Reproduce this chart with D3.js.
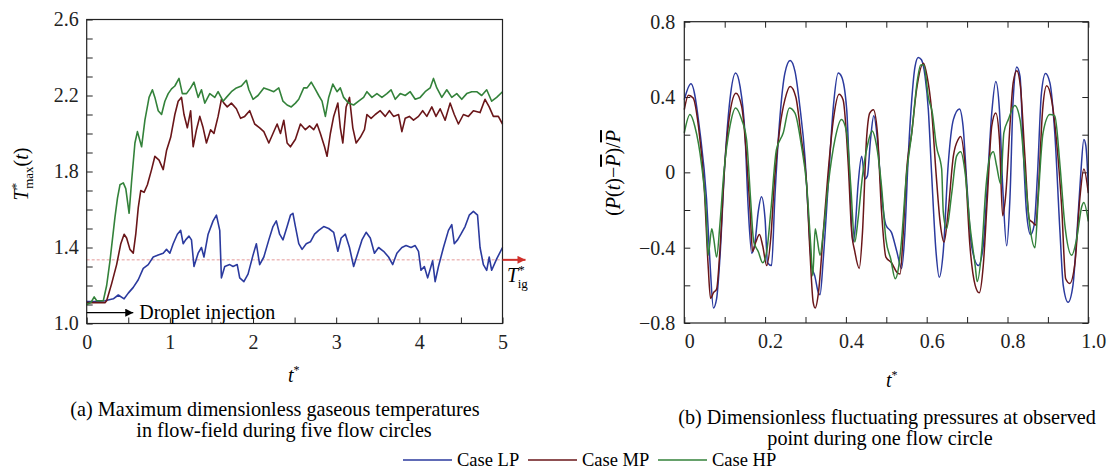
<!DOCTYPE html>
<html>
<head>
<meta charset="utf-8">
<script src="https://cdn.jsdelivr.net/npm/d3@7"></script>
<style>
  body { margin: 0; background: #fff; }
  svg { display: block; font-family: "Liberation Serif", "Times New Roman", serif; }
</style>
</head>
<body>
<svg id="chart" width="1117" height="470" font-family="Liberation Serif, Times New Roman, serif"></svg>
<script>
// ---- data: panel (a), T*max(t) over five flow circles, [t*, value]
const tempLP = [[0,1.115],[0.1,1.115],[0.22,1.12],[0.32,1.13],[0.38,1.15],[0.45,1.13],[0.50,1.16],[0.56,1.19],[0.62,1.23],[0.68,1.29],[0.74,1.31],[0.80,1.35],[0.86,1.36],[0.92,1.37],[0.96,1.39],[1.00,1.37],[1.04,1.42],[1.09,1.47],[1.13,1.49],[1.16,1.42],[1.19,1.44],[1.23,1.46],[1.26,1.44],[1.29,1.30],[1.34,1.37],[1.38,1.40],[1.41,1.35],[1.46,1.47],[1.52,1.54],[1.56,1.57],[1.60,1.49],[1.62,1.24],[1.66,1.30],[1.72,1.31],[1.76,1.30],[1.81,1.31],[1.84,1.24],[1.89,1.22],[1.94,1.26],[2.00,1.36],[2.04,1.42],[2.08,1.31],[2.13,1.35],[2.19,1.44],[2.24,1.51],[2.28,1.54],[2.32,1.47],[2.36,1.44],[2.41,1.51],[2.45,1.57],[2.48,1.58],[2.51,1.51],[2.55,1.42],[2.59,1.39],[2.64,1.42],[2.69,1.43],[2.74,1.47],[2.79,1.49],[2.85,1.51],[2.91,1.50],[2.97,1.48],[3.02,1.38],[3.06,1.45],[3.11,1.47],[3.16,1.40],[3.21,1.30],[3.26,1.37],[3.31,1.44],[3.36,1.48],[3.41,1.45],[3.46,1.37],[3.51,1.40],[3.57,1.38],[3.63,1.35],[3.68,1.31],[3.73,1.37],[3.79,1.40],[3.84,1.41],[3.90,1.40],[3.95,1.41],[3.99,1.38],[4.02,1.28],[4.06,1.30],[4.10,1.24],[4.14,1.30],[4.16,1.33],[4.19,1.22],[4.23,1.30],[4.29,1.40],[4.35,1.49],[4.39,1.52],[4.42,1.42],[4.46,1.44],[4.50,1.47],[4.55,1.51],[4.60,1.57],[4.65,1.59],[4.70,1.57],[4.73,1.40],[4.77,1.31],[4.81,1.28],[4.84,1.35],[4.87,1.28],[4.93,1.34],[5.00,1.40]];
const tempMP = [[0,1.11],[0.1,1.11],[0.22,1.11],[0.24,1.12],[0.30,1.21],[0.36,1.31],[0.41,1.42],[0.45,1.47],[0.48,1.45],[0.52,1.39],[0.56,1.37],[0.59,1.47],[0.62,1.61],[0.65,1.70],[0.69,1.69],[0.73,1.73],[0.78,1.81],[0.82,1.88],[0.87,1.86],[0.92,1.81],[0.96,1.91],[1.01,1.98],[1.06,2.10],[1.10,2.17],[1.14,2.19],[1.17,2.10],[1.21,2.03],[1.25,2.12],[1.28,1.93],[1.32,2.02],[1.36,2.09],[1.40,2.03],[1.44,1.95],[1.49,2.02],[1.53,2.00],[1.58,2.09],[1.62,2.18],[1.65,2.16],[1.69,2.14],[1.74,2.16],[1.80,2.13],[1.85,2.08],[1.90,2.09],[1.96,2.12],[2.02,2.05],[2.08,2.03],[2.13,2.01],[2.19,1.95],[2.24,2.00],[2.29,2.05],[2.33,2.00],[2.37,2.07],[2.41,1.95],[2.45,1.93],[2.51,1.97],[2.57,2.05],[2.63,2.02],[2.68,2.04],[2.73,2.02],[2.77,2.05],[2.81,2.00],[2.86,1.93],[2.89,1.88],[2.93,2.00],[2.97,2.09],[3.02,2.16],[3.05,2.03],[3.08,1.95],[3.12,2.14],[3.16,2.19],[3.20,2.03],[3.24,1.95],[3.29,1.98],[3.34,2.02],[3.37,2.10],[3.42,2.08],[3.47,2.10],[3.53,2.12],[3.59,2.09],[3.64,2.12],[3.69,2.09],[3.75,2.10],[3.79,2.01],[3.83,2.08],[3.88,2.09],[3.93,2.07],[3.99,2.09],[4.04,2.12],[4.09,2.09],[4.15,2.14],[4.20,2.09],[4.25,2.13],[4.31,2.07],[4.37,2.16],[4.42,2.10],[4.47,2.05],[4.53,2.10],[4.59,2.09],[4.65,2.12],[4.73,2.11],[4.79,2.18],[4.84,2.14],[4.89,2.09],[4.95,2.09],[5.00,2.05]];
const tempHP = [[0,1.10],[0.05,1.11],[0.09,1.14],[0.12,1.12],[0.20,1.12],[0.24,1.20],[0.28,1.33],[0.34,1.56],[0.37,1.66],[0.40,1.73],[0.44,1.74],[0.47,1.71],[0.51,1.58],[0.54,1.75],[0.58,1.95],[0.61,2.01],[0.66,1.93],[0.70,2.07],[0.75,2.19],[0.79,2.23],[0.82,2.19],[0.86,2.12],[0.90,2.10],[0.94,2.17],[0.98,2.21],[1.02,2.235],[1.06,2.25],[1.11,2.29],[1.15,2.21],[1.20,2.21],[1.25,2.24],[1.29,2.27],[1.34,2.19],[1.38,2.23],[1.42,2.16],[1.48,2.21],[1.54,2.19],[1.58,2.22],[1.64,2.17],[1.68,2.19],[1.74,2.22],[1.80,2.24],[1.86,2.25],[1.92,2.28],[1.95,2.23],[2.00,2.18],[2.06,2.20],[2.13,2.24],[2.19,2.23],[2.25,2.22],[2.31,2.24],[2.36,2.17],[2.41,2.15],[2.46,2.14],[2.51,2.16],[2.55,2.18],[2.61,2.24],[2.65,2.24],[2.70,2.27],[2.74,2.24],[2.79,2.20],[2.83,2.17],[2.87,2.09],[2.91,2.19],[2.96,2.26],[3.01,2.22],[3.05,2.24],[3.09,2.19],[3.15,2.16],[3.21,2.15],[3.27,2.17],[3.33,2.19],[3.37,2.22],[3.43,2.19],[3.49,2.21],[3.55,2.19],[3.61,2.21],[3.66,2.23],[3.71,2.18],[3.77,2.21],[3.83,2.20],[3.89,2.22],[3.95,2.18],[4.01,2.19],[4.07,2.22],[4.13,2.24],[4.17,2.29],[4.21,2.24],[4.27,2.19],[4.33,2.23],[4.39,2.19],[4.45,2.21],[4.51,2.18],[4.57,2.21],[4.63,2.22],[4.69,2.22],[4.75,2.20],[4.81,2.23],[4.87,2.17],[4.93,2.19],[5.00,2.22]];

// ---- data: panel (b), (P(t)-Pbar)/Pbar during one flow circle, [t*, value]
const presLP = [[0,0.386],[0.0165,0.47],[0.039,0.21],[0.055,-0.14],[0.064,-0.495],[0.072,-0.72],[0.08,-0.67],[0.088,-0.46],[0.10,0.035],[0.113,0.386],[0.127,0.527],[0.138,0.456],[0.15,0.21],[0.158,-0.18],[0.167,-0.43],[0.175,-0.37],[0.183,-0.21],[0.191,-0.13],[0.20,-0.25],[0.206,-0.48],[0.216,-0.495],[0.224,-0.14],[0.237,0.30],[0.249,0.527],[0.262,0.594],[0.274,0.536],[0.286,0.35],[0.299,0.07],[0.307,-0.23],[0.315,-0.495],[0.323,-0.55],[0.332,-0.64],[0.336,-0.65],[0.344,-0.46],[0.356,-0.07],[0.369,0.35],[0.381,0.527],[0.389,0.51],[0.402,0.333],[0.41,-0.07],[0.417,-0.37],[0.422,-0.32],[0.43,-0.07],[0.439,0.086],[0.447,-0.035],[0.453,-0.02],[0.461,0.175],[0.469,0.30],[0.478,0.175],[0.488,-0.11],[0.499,-0.28],[0.513,-0.32],[0.526,-0.42],[0.538,-0.51],[0.546,-0.32],[0.554,0.07],[0.563,0.386],[0.571,0.56],[0.579,0.61],[0.587,0.598],[0.596,0.51],[0.604,0.333],[0.612,0],[0.623,-0.42],[0.631,-0.557],[0.641,-0.42],[0.653,0.035],[0.666,0.28],[0.681,0.337],[0.69,0.245],[0.699,-0.05],[0.711,-0.39],[0.728,-0.495],[0.74,-0.39],[0.748,-0.14],[0.761,0.315],[0.771,0.483],[0.78,0.333],[0.788,-0.07],[0.798,-0.39],[0.806,-0.14],[0.814,0.386],[0.823,0.56],[0.831,0.51],[0.839,0.12],[0.847,-0.21],[0.857,-0.33],[0.866,-0.28],[0.874,-0.02],[0.884,0.42],[0.894,0.525],[0.905,0.475],[0.917,0.21],[0.93,-0.32],[0.938,-0.60],[0.95,-0.69],[0.962,-0.60],[0.972,-0.32],[0.981,-0.02],[0.989,0.175],[0.994,0.14],[1.0,-0.07]];
const presMP = [[0,0.333],[0.01,0.41],[0.022,0.395],[0.035,0.245],[0.049,-0.07],[0.059,-0.495],[0.065,-0.67],[0.072,-0.64],[0.08,-0.62],[0.088,-0.42],[0.10,0.035],[0.113,0.315],[0.128,0.42],[0.142,0.35],[0.154,0.086],[0.163,-0.21],[0.169,-0.42],[0.177,-0.37],[0.186,-0.33],[0.194,-0.39],[0.204,-0.495],[0.214,-0.35],[0.224,-0.02],[0.237,0.245],[0.249,0.386],[0.262,0.456],[0.276,0.40],[0.29,0.175],[0.303,-0.07],[0.311,-0.42],[0.319,-0.69],[0.324,-0.72],[0.332,-0.64],[0.344,-0.32],[0.356,0],[0.369,0.28],[0.383,0.415],[0.393,0.386],[0.406,0.035],[0.414,-0.31],[0.422,-0.42],[0.433,-0.51],[0.441,-0.32],[0.451,0.175],[0.459,0.315],[0.468,0.333],[0.478,0.21],[0.488,-0.20],[0.499,-0.45],[0.513,-0.48],[0.526,-0.53],[0.534,-0.54],[0.542,-0.32],[0.55,0],[0.563,0.21],[0.575,0.44],[0.592,0.58],[0.601,0.51],[0.612,0.333],[0.623,0],[0.634,-0.28],[0.643,-0.37],[0.653,-0.21],[0.666,0.086],[0.678,0.175],[0.684,0.19],[0.695,0.035],[0.707,-0.39],[0.72,-0.60],[0.73,-0.64],[0.74,-0.495],[0.75,-0.14],[0.761,0.245],[0.771,0.315],[0.78,0.175],[0.788,-0.23],[0.796,-0.11],[0.806,0.245],[0.814,0.475],[0.823,0.54],[0.832,0.456],[0.843,0.086],[0.854,-0.25],[0.862,-0.265],[0.87,-0.28],[0.876,-0.11],[0.887,0.333],[0.897,0.46],[0.909,0.386],[0.921,0.175],[0.934,-0.18],[0.944,-0.565],[0.954,-0.59],[0.967,-0.48],[0.979,-0.14],[0.989,0.018],[1.0,-0.11]];
const presHP = [[0,0.21],[0.014,0.307],[0.026,0.245],[0.043,0.035],[0.054,-0.21],[0.059,-0.44],[0.068,-0.30],[0.073,-0.355],[0.08,-0.45],[0.088,-0.28],[0.098,0],[0.113,0.245],[0.127,0.342],[0.142,0.28],[0.154,0.175],[0.164,-0.14],[0.172,-0.37],[0.183,-0.42],[0.194,-0.48],[0.204,-0.42],[0.214,-0.21],[0.228,0.12],[0.245,0.21],[0.26,0.342],[0.274,0.315],[0.29,0.14],[0.303,-0.07],[0.313,-0.39],[0.318,-0.55],[0.324,-0.30],[0.329,-0.355],[0.336,-0.44],[0.344,-0.32],[0.356,-0.07],[0.373,0.175],[0.389,0.28],[0.402,0.21],[0.412,-0.07],[0.422,-0.37],[0.43,-0.25],[0.441,-0.02],[0.453,0.14],[0.465,0.22],[0.476,0.14],[0.488,-0.07],[0.499,-0.355],[0.511,-0.46],[0.522,-0.565],[0.53,-0.51],[0.538,-0.355],[0.549,-0.035],[0.563,0.21],[0.577,0.49],[0.585,0.57],[0.593,0.57],[0.604,0.40],[0.614,0.315],[0.624,0.14],[0.637,0.018],[0.641,-0.21],[0.649,-0.30],[0.662,-0.11],[0.674,0.086],[0.684,0.11],[0.695,0],[0.707,-0.28],[0.72,-0.495],[0.725,-0.58],[0.736,-0.42],[0.747,-0.07],[0.757,0.086],[0.765,0.11],[0.773,0.035],[0.783,-0.06],[0.791,0.21],[0.802,0.28],[0.818,0.355],[0.831,0.28],[0.843,0],[0.855,-0.28],[0.868,-0.40],[0.876,-0.14],[0.888,0.21],[0.905,0.307],[0.917,0.30],[0.93,0.035],[0.942,-0.28],[0.959,-0.44],[0.971,-0.355],[0.984,-0.18],[0.989,-0.16],[1.0,-0.26]];

// ---- annotation and legend values
const ignitionT = 1.335;
const injectionLevel = 1.057;
const injectionEnd = 0.56;
const cases = ["Case LP", "Case MP", "Case HP"];
const colors = ["#2b3a9e", "#6a1619", "#33823a"];

const svg = d3.select("#chart");
svg.append("rect").attr("width", 1117).attr("height", 470).attr("fill", "#fff");

const defs = svg.append("defs");
function marker(id, color, w, h) {
    defs.append("marker")
        .attr("id", id)
        .attr("viewBox", "0 0 10 10")
        .attr("refX", 10).attr("refY", 5)
        .attr("markerWidth", w).attr("markerHeight", h)
        .attr("markerUnits", "userSpaceOnUse")
        .attr("orient", "auto")
      .append("path")
        .attr("d", "M0,0L10,5L0,10Z")
        .attr("fill", color);
}
marker("arrowRed", "#d0302a", 11, 8);
marker("arrowBlack", "#000", 14, 8);

function styleAxis(g, size) {
    g.attr("font-size", size).attr("font-family", null).attr("color", "#222");
    g.select(".domain").remove();
    g.selectAll(".tick line").attr("stroke-width", 1);
}

// ================= panel (a)
const xa = d3.scaleLinear().domain([0, 5]).range([86.7, 502.5]);
const ya = d3.scaleLinear().domain([1.0, 2.6]).range([323.5, 19.5]);

const aY = svg.append("g").attr("transform", `translate(${xa(0)},0)`)
    .call(d3.axisLeft(ya)
        .tickValues(d3.range(10, 27).map(d => d / 10))
        .tickSizeInner(-6).tickSizeOuter(0).tickPadding(8)
        .tickFormat(d => Math.round(d * 10) % 4 === 2 ? d3.format(".1f")(d) : ""));
styleAxis(aY, 20);

const aX = svg.append("g").attr("transform", `translate(0,${ya(1.0)})`)
    .call(d3.axisBottom(xa)
        .tickValues(d3.range(0, 11).map(d => d / 2))
        .tickSizeInner(-6).tickSizeOuter(0).tickPadding(11)
        .tickFormat(d => Number.isInteger(d) ? d : ""));
styleAxis(aX, 20);

// ignition temperature reference
svg.append("line")
    .attr("x1", xa(0)).attr("x2", xa(5))
    .attr("y1", ya(ignitionT)).attr("y2", ya(ignitionT))
    .attr("stroke", "#e59a9a").attr("stroke-width", 1)
    .attr("stroke-dasharray", "3,2");

const lineA = d3.line().x(d => xa(d[0])).y(d => ya(d[1]));
[tempLP, tempMP, tempHP].forEach((s, i) => {
    svg.append("path").datum(s)
        .attr("d", lineA)
        .attr("fill", "none")
        .attr("stroke", colors[i])
        .attr("stroke-width", 1.6)
        .attr("stroke-linejoin", "round");
});

svg.append("rect")
    .attr("x", xa(0)).attr("y", ya(2.6))
    .attr("width", xa(5) - xa(0)).attr("height", ya(1.0) - ya(2.6))
    .attr("fill", "none").attr("stroke", "#222").attr("stroke-width", 1.2);

// red arrow for T*ig
svg.append("line")
    .attr("x1", xa(5)).attr("x2", xa(5) + 23)
    .attr("y1", ya(ignitionT)).attr("y2", ya(ignitionT))
    .attr("stroke", "#d0302a").attr("stroke-width", 2)
    .attr("marker-end", "url(#arrowRed)");
const tig = svg.append("text").attr("x", 507).attr("y", 282).attr("font-size", 20);
tig.append("tspan").attr("font-style", "italic").text("T");
tig.append("tspan").attr("dy", -8).attr("font-size", 13).text("*");
tig.append("tspan").attr("dx", -7).attr("dy", 14).attr("font-size", 13).text("ig");

// droplet injection arrow
svg.append("line")
    .attr("x1", xa(0)).attr("x2", xa(injectionEnd))
    .attr("y1", ya(injectionLevel)).attr("y2", ya(injectionLevel))
    .attr("stroke", "#000").attr("stroke-width", 1.3)
    .attr("marker-end", "url(#arrowBlack)");
svg.append("text")
    .attr("x", xa(injectionEnd) + 6).attr("y", ya(injectionLevel) + 6)
    .attr("font-size", 20)
    .text("Droplet injection");

// y title
const aTitle = svg.append("text")
    .attr("transform", "translate(28,174) rotate(-90)")
    .attr("text-anchor", "middle").attr("font-size", 20);
aTitle.append("tspan").attr("font-style", "italic").text("T");
aTitle.append("tspan").attr("dy", -8).attr("font-size", 13).text("*");
aTitle.append("tspan").attr("dx", -6).attr("dy", 13).attr("font-size", 13).text("max");
aTitle.append("tspan").attr("dy", -5).text("(");
aTitle.append("tspan").attr("font-style", "italic").text("t");
aTitle.append("tspan").text(")");

// x title
const aXT = svg.append("text").attr("x", 288).attr("y", 382).attr("font-size", 20);
aXT.append("tspan").attr("font-style", "italic").text("t");
aXT.append("tspan").attr("dy", -8).attr("font-size", 12).text("*");

svg.append("text").attr("x", 275).attr("y", 416).attr("font-size", 20.2)
    .attr("text-anchor", "middle")
    .text("(a) Maximum dimensionless gaseous temperatures");
svg.append("text").attr("x", 284).attr("y", 437).attr("font-size", 20.2)
    .attr("text-anchor", "middle")
    .text("in flow-field during five flow circles");

// ================= panel (b)
const xb = d3.scaleLinear().domain([0, 1]).range([684.3, 1088.3]);
const yb = d3.scaleLinear().domain([-0.8, 0.8]).range([323, 21.7]);
const fmtB = d => Math.abs(d) < 1e-9 ? "0" : d3.format(".1f")(d);

const bY = svg.append("g").attr("transform", `translate(${xb(0)},0)`)
    .call(d3.axisLeft(yb)
        .tickValues(d3.range(-4, 5).map(d => d / 5))
        .tickSizeInner(-6).tickSizeOuter(0).tickPadding(9)
        .tickFormat(d => Math.round(d * 10) % 4 === 0 ? fmtB(d) : ""));
styleAxis(bY, 20);

const bR = svg.append("g").attr("transform", `translate(${xb(1)},0)`)
    .call(d3.axisRight(yb)
        .tickValues(d3.range(-4, 5).map(d => d / 5))
        .tickSizeInner(-6).tickSizeOuter(0).tickFormat(""));
styleAxis(bR, 20);

const bT = svg.append("g").attr("transform", `translate(0,${yb(0.8)})`)
    .call(d3.axisTop(xb)
        .tickValues(d3.range(0, 11).map(d => d / 10))
        .tickSizeInner(-6).tickSizeOuter(0).tickFormat(""));
styleAxis(bT, 20);

const bX = svg.append("g").attr("transform", `translate(0,${yb(-0.8)})`)
    .call(d3.axisBottom(xb)
        .tickValues(d3.range(0, 11).map(d => d / 10))
        .tickSizeInner(-6).tickSizeOuter(0).tickPadding(11)
        .tickFormat(d => Math.round(d * 10) % 2 === 0 ? fmtB(d) : ""));
styleAxis(bX, 20);
bX.selectAll(".tick text").attr("dx", 5);

const lineB = d3.line().curve(d3.curveMonotoneX).x(d => xb(d[0])).y(d => yb(d[1]));
[presLP, presMP, presHP].forEach((s, i) => {
    svg.append("path").datum(s)
        .attr("d", lineB)
        .attr("fill", "none")
        .attr("stroke", colors[i])
        .attr("stroke-width", 1.5);
});

svg.append("rect")
    .attr("x", xb(0)).attr("y", yb(0.8))
    .attr("width", xb(1) - xb(0)).attr("height", yb(-0.8) - yb(0.8))
    .attr("fill", "none").attr("stroke", "#222").attr("stroke-width", 1.2);

// y title with overbars
const bTitle = svg.append("text")
    .attr("transform", "translate(620,173) rotate(-90)")
    .attr("text-anchor", "middle").attr("font-size", 20);
bTitle.append("tspan").text("(");
bTitle.append("tspan").attr("font-style", "italic").text("P");
bTitle.append("tspan").text("(");
bTitle.append("tspan").attr("font-style", "italic").text("t");
bTitle.append("tspan").text(")\u2212");
bTitle.append("tspan").attr("font-style", "italic").style("text-decoration", "overline").text("P");
bTitle.append("tspan").text(")/");
bTitle.append("tspan").attr("font-style", "italic").style("text-decoration", "overline").text("P");

const bXT = svg.append("text").attr("x", 886).attr("y", 387).attr("font-size", 20);
bXT.append("tspan").attr("font-style", "italic").text("t");
bXT.append("tspan").attr("dy", -8).attr("font-size", 12).text("*");

svg.append("text").attr("x", 887).attr("y", 424).attr("font-size", 20.2)
    .attr("text-anchor", "middle")
    .text("(b) Dimensionless fluctuating pressures at observed");
svg.append("text").attr("x", 880).attr("y", 445).attr("font-size", 20.2)
    .attr("text-anchor", "middle")
    .text("point during one flow circle");

// ================= legend
const legendX = [403, 528, 658];
const legend = svg.append("g");
cases.forEach((c, i) => {
    legend.append("line")
        .attr("x1", legendX[i]).attr("x2", legendX[i] + 49)
        .attr("y1", 460).attr("y2", 460)
        .attr("stroke", colors[i]).attr("stroke-width", 1.5);
    legend.append("text")
        .attr("x", legendX[i] + 54).attr("y", 466)
        .attr("font-size", 18.5)
        .text(c);
});
</script>
</body>
</html>
